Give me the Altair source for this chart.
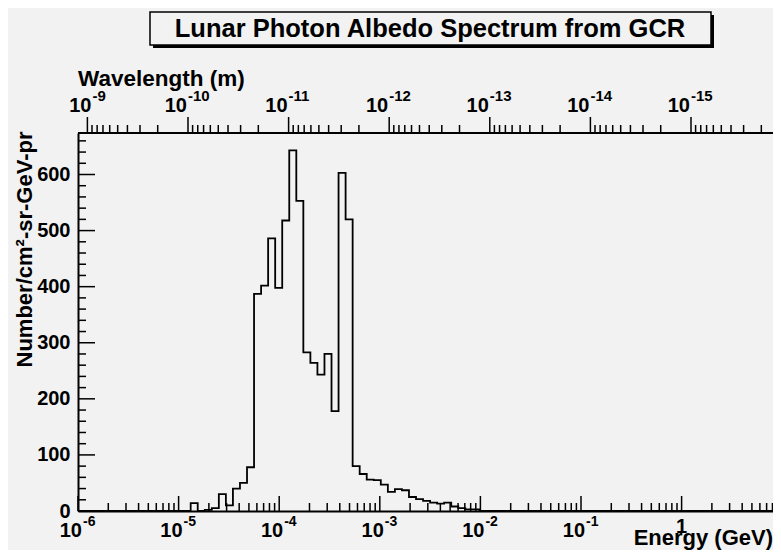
import altair as alt
import numpy as np
import pandas as pd

# ---------------- data ----------------
TITLE = "Lunar Photon Albedo Spectrum from GCR"
X_TITLE = "Energy (GeV)"
Y_TITLE = "Number/cm²-sr-GeV-pr"
TOP_TITLE = "Wavelength (m)"

# histogram definition: 100 log-spaced bins from 1e-6 to 10 GeV
LOG_E_MIN = -6.0
LOG_E_MAX = 1.0
N_BINS = 100
COUNTS = [
    0, 0, 0, 0, 0, 0, 0, 0, 0, 0,
    0, 0, 0, 0, 0, 0, 14, 0, 2, 5,
    30, 10, 40, 50, 78, 387, 402, 486, 398, 518,
    643, 553, 283, 264, 243, 280, 178, 603, 520, 80,
    66, 56, 55, 47, 34, 39, 37, 25, 21, 18,
    15, 13, 15, 8, 5, 3, 3, 0, 0, 0,
    0, 0, 0, 0, 0, 0, 0, 0, 0, 0,
    0, 0, 0, 0, 0, 0, 0, 0, 0, 0,
    0, 0, 0, 0, 0, 0, 0, 0, 0, 0,
    0, 0, 0, 0, 0, 0, 0, 0, 0, 0,
]
X_MIN = 1e-6
X_MAX = 8.1          # visible right edge of the frame
Y_MAX = 674
HC = 1.23984e-15     # GeV * m

BOTTOM_EXPONENTS = [-6, -5, -4, -3, -2, -1]
BOTTOM_PLAIN = [(0, "1")]
TOP_EXPONENTS = [-9, -10, -11, -12, -13, -14, -15]
Y_MAJOR = [0, 100, 200, 300, 400, 500, 600]
Y_MINOR_STEP = 20

# ---------------- layout ----------------
W, H = 695, 378
FONT = "Liberation Sans, Arial, Helvetica, sans-serif"
BG = "#f2f2f2"

xs = alt.Scale(type="log", domain=[X_MIN, X_MAX], nice=False, clamp=False)
ys = alt.Scale(domain=[0, Y_MAX], nice=False, zero=True)

edges = 10 ** (LOG_E_MIN + (LOG_E_MAX - LOG_E_MIN) * np.arange(N_BINS + 1) / N_BINS)
hist = pd.DataFrame({"E": edges, "n": COUNTS + [COUNTS[-1]]})

line = alt.Chart(hist).mark_line(
    interpolate="step-after", color="black", strokeWidth=1.8, clip=True
).encode(
    x=alt.X("E:Q", scale=xs,
            axis=alt.Axis(labels=False, ticks=False, title=None, grid=False,
                          domainColor="black", domainWidth=2)),
    y=alt.Y("n:Q", scale=ys,
            axis=alt.Axis(values=Y_MAJOR, ticks=False, grid=False, domainColor="black",
                          domainWidth=2, labelFont=FONT, labelFontSize=20,
                          labelFontWeight="bold", labelColor="black", labelPadding=8,
                          title=Y_TITLE, titleFont=FONT, titleFontSize=22,
                          titleFontWeight="bold", titleColor="black", titleAngle=270,
                          titleAlign="right", titleBaseline="alphabetic",
                          titleX=-47, titleY=-2)),
)

# --- bottom ticks (inward) ---
bmaj = [10.0 ** d for d in range(-6, 1)]
bmin = [m * 10.0 ** d for d in range(-6, 1) for m in range(2, 10) if m * 10.0 ** d <= X_MAX]
bt_major = alt.Chart(pd.DataFrame({"E": bmaj})).mark_rule(color="black", strokeWidth=1.5).encode(
    x=alt.X("E:Q", scale=xs), y=alt.value(H), y2=alt.value(H - 15))
bt_minor = alt.Chart(pd.DataFrame({"E": bmin})).mark_rule(color="black", strokeWidth=1.5).encode(
    x=alt.X("E:Q", scale=xs), y=alt.value(H), y2=alt.value(H - 8))

# --- left ticks (inward) ---
ymin = [v for v in range(0, Y_MAX, Y_MINOR_STEP) if v not in Y_MAJOR]
lt_major = alt.Chart(pd.DataFrame({"v": Y_MAJOR})).mark_rule(color="black", strokeWidth=1.5).encode(
    y=alt.Y("v:Q", scale=ys), x=alt.value(0), x2=alt.value(17))
lt_minor = alt.Chart(pd.DataFrame({"v": ymin})).mark_rule(color="black", strokeWidth=1.5).encode(
    y=alt.Y("v:Q", scale=ys), x=alt.value(0), x2=alt.value(8))

# --- top wavelength axis ---
tmaj = [HC / 10.0 ** d for d in TOP_EXPONENTS]
tmin = [HC / (m * 10.0 ** d) for d in range(-9, -17, -1) for m in range(2, 10)
        if X_MIN <= HC / (m * 10.0 ** d) <= X_MAX]
tt_major = alt.Chart(pd.DataFrame({"E": tmaj})).mark_rule(color="black", strokeWidth=1.5).encode(
    x=alt.X("E:Q", scale=xs), y=alt.value(0), y2=alt.value(-16))
tt_minor = alt.Chart(pd.DataFrame({"E": tmin})).mark_rule(color="black", strokeWidth=1.5).encode(
    x=alt.X("E:Q", scale=xs), y=alt.value(0), y2=alt.value(-8))
top_line = alt.Chart(pd.DataFrame({"a": [0]})).mark_rule(color="black", strokeWidth=2).encode(
    x=alt.value(0), x2=alt.value(W), y=alt.value(0))


def sup_labels(df, base_y, exp_y, split, exp_size):
    base = alt.Chart(df).mark_text(
        align="right", baseline="alphabetic", font=FONT, fontSize=20,
        fontWeight="bold", color="black", dx=split
    ).encode(x=alt.X("E:Q", scale=xs), y=alt.value(base_y), text="base:N")
    expo = alt.Chart(df).mark_text(
        align="left", baseline="alphabetic", font=FONT, fontSize=exp_size,
        fontWeight="bold", color="black", dx=split + 1
    ).encode(x=alt.X("E:Q", scale=xs), y=alt.value(exp_y), text="exp:N")
    return [base, expo]


bl = pd.DataFrame({"E": [10.0 ** d for d in BOTTOM_EXPONENTS],
                   "base": ["10"] * len(BOTTOM_EXPONENTS),
                   "exp": [str(d) for d in BOTTOM_EXPONENTS]})
bl_plain = pd.DataFrame({"E": [10.0 ** d for d, _ in BOTTOM_PLAIN],
                         "t": [t for _, t in BOTTOM_PLAIN]})
plain = alt.Chart(bl_plain).mark_text(
    align="center", baseline="alphabetic", font=FONT, fontSize=20,
    fontWeight="bold", color="black").encode(
    x=alt.X("E:Q", scale=xs), y=alt.value(H + 22), text="t:N")

tl = pd.DataFrame({"E": tmaj, "base": ["10"] * len(TOP_EXPONENTS),
                   "exp": [str(d) for d in TOP_EXPONENTS]})
tl1 = tl[tl["exp"].str.len() == 2]
tl2 = tl[tl["exp"].str.len() == 3]

labels = (sup_labels(bl, H + 26, H + 15, 4, 14)
          + sup_labels(tl1, -21, -32, 4, 15)
          + sup_labels(tl2, -21, -32, -1, 15))

one = pd.DataFrame({"a": [0]})
x_title = alt.Chart(one).mark_text(
    align="right", baseline="alphabetic", font=FONT, fontSize=22,
    fontWeight="bold", color="black").encode(
    x=alt.value(W), y=alt.value(H + 34), text=alt.value(X_TITLE))
top_title = alt.Chart(one).mark_text(
    align="left", baseline="alphabetic", font=FONT, fontSize=22.5,
    fontWeight="bold", color="black").encode(
    x=alt.value(0), y=alt.value(-47), text=alt.value(TOP_TITLE))

shadow = alt.Chart(one).mark_rect(fill="black").encode(
    x=alt.value(75), x2=alt.value(636), y=alt.value(-118), y2=alt.value(-85))
box = alt.Chart(one).mark_rect(fill=BG, stroke="black", strokeWidth=1.5).encode(
    x=alt.value(72), x2=alt.value(633), y=alt.value(-121), y2=alt.value(-88))
title_txt = alt.Chart(one).mark_text(
    align="center", baseline="alphabetic", font=FONT, fontSize=25.5,
    fontWeight="bold", color="black").encode(
    x=alt.value(352), y=alt.value(-96), text=alt.value(TITLE))

chart = alt.layer(
    shadow, box, title_txt, top_title,
    line, bt_major, bt_minor, lt_major, lt_minor,
    top_line, tt_major, tt_minor, plain, x_title, *labels
).properties(
    width=W, height=H, background=BG,
    padding={"left": 70, "top": 125, "right": 0, "bottom": 39},
    autosize=alt.AutoSizeParams(type="none"),
).configure_view(stroke=None)

chart.save("out.html", embed_options={"renderer": "svg", "actions": False})
